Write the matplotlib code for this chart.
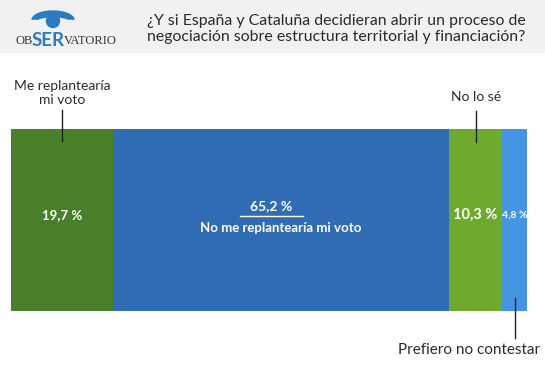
import matplotlib
matplotlib.use("Agg")
import numpy as np
from matplotlib import pyplot as plt
from matplotlib.patches import Rectangle, Circle, Ellipse

plt.rcParams['font.family'] = ['Lato', 'DejaVu Sans']

# datos de la encuesta
categorias = ["Me replantearía mi voto", "No me replantearía mi voto", "No lo sé", "Prefiero no contestar"]
valores = [19.7, 65.2, 10.3, 4.8]
etiquetas = ["19,7 %", "65,2 %", "10,3 %", "4,8 %"]
colores = ["#4a7f2a", "#2f6cb4", "#6eaa2e", "#4496e2"]

titulo = "¿Y si España y Cataluña decidieran abrir un proceso de\nnegociación sobre estructura territorial y financiación?"

W, H = 545, 374
fig = plt.figure(figsize=(W / 100, H / 100), dpi=100)

# capa de fondo en pixeles para cabecera y logo
bg = fig.add_axes([0, 0, 1, 1])
bg.set_xlim(0, W)
bg.set_ylim(H, 0)
bg.axis("off")
bg.add_patch(Rectangle((0, 0), W, 52, color="#f1f1f1", zorder=0))
bg.text(147, 29, titulo, fontsize=11.4, color="#2b2b2b", va="center", ha="left", linespacing=1.25)

# logo aproximado
bg.add_patch(Ellipse((53, 20), 42, 18, color="#2b7bc0", zorder=1))
bg.add_patch(Ellipse((53, 24), 36, 12, color="#f1f1f1", zorder=2))
bg.add_patch(Rectangle((28, 20), 50, 12, color="#f1f1f1", zorder=2))
bg.add_patch(Circle((53, 21), 6.5, color="#2b7bc0", zorder=3))
bg.text(15, 41, "OB", fontsize=9, family="Liberation Serif", color="#333333", va="center", ha="left")
bg.text(32, 40, "SER", fontsize=13.5, fontweight="bold", color="#2b7bc0", va="center", ha="left")
bg.text(64, 41, "VATORIO", fontsize=9, family="Liberation Serif", color="#333333", va="center", ha="left")

# barra apilada
x0, x1, y0, y1 = 11, 527, 129, 311
ax = fig.add_axes([x0 / W, 1 - y1 / H, (x1 - x0) / W, (y1 - y0) / H])
izq = np.concatenate([[0], np.cumsum(valores)[:-1]])
for i in range(len(valores)):
    ax.barh([0], valores[i], left=izq[i], height=1, color=colores[i], edgecolor="none")
ax.set_xlim(0, sum(valores))
ax.set_ylim(-0.5, 0.5)
ax.axis("off")

centros = izq + np.array(valores) / 2
tr = ax.get_xaxis_transform()
yc = lambda py: 1 - (py - y0) / (y1 - y0)

ax.text(centros[0], yc(215), etiquetas[0], transform=tr, color="white", fontsize=9.5,
        fontweight="bold", ha="center", va="center")
ax.text(centros[2], yc(215), etiquetas[2], transform=tr, color="white", fontsize=10.5,
        fontweight="bold", ha="center", va="center")
ax.text(centros[3], yc(215), etiquetas[3], transform=tr, color="white", fontsize=7.5,
        fontweight="bold", ha="center", va="center", clip_on=False)

# etiqueta central
cx = centros[1] - 1.9
ax.text(cx, yc(206), etiquetas[1], transform=tr, color="white", fontsize=10,
        fontweight="bold", ha="center", va="center")
ax.plot([cx - 6.1, cx + 6.1], [yc(216), yc(216)], transform=tr, color="white", lw=1)
ax.text(centros[1], yc(228), categorias[1], transform=tr, color="white", fontsize=9.5,
        fontweight="bold", ha="center", va="center")

# etiquetas externas con lineas guia
ax.plot([centros[0], centros[0]], [yc(110), yc(141)], transform=tr, color="#222222", lw=1, clip_on=False)
ax.text(centros[0], yc(93), "Me replantearía\nmi voto", transform=tr, color="#2b2b2b", fontsize=10,
        ha="center", va="center", linespacing=1.1, clip_on=False)
ax.plot([centros[2], centros[2]], [yc(111), yc(142)], transform=tr, color="#222222", lw=1, clip_on=False)
ax.text(centros[2], yc(97), categorias[2], transform=tr, color="#2b2b2b", fontsize=10,
        ha="center", va="center", clip_on=False)
ax.plot([centros[3], centros[3]], [yc(298), yc(338)], transform=tr, color="#222222", lw=1, clip_on=False)
ax.text(centros[3] + 5.0, yc(350), categorias[3], transform=tr, color="#2b2b2b", fontsize=11,
        ha="right", va="center", clip_on=False)

fig.savefig("out.png", dpi=100)
